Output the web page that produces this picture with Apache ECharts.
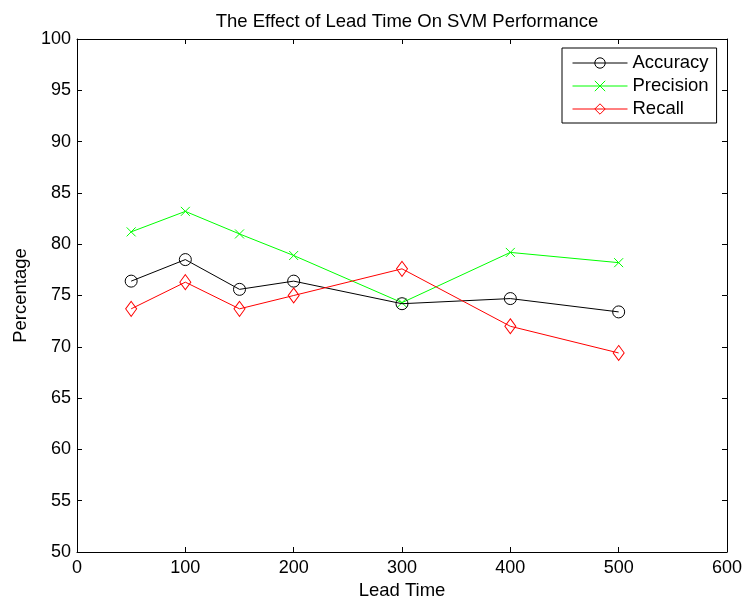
<!DOCTYPE html>
<html>
<head>
<meta charset="utf-8">
<script src="https://cdn.jsdelivr.net/npm/echarts@6/dist/echarts.min.js"></script>
<style>html,body{margin:0;padding:0;background:#fff}#c{width:743px;height:598px}</style>
</head>
<body>
<div id="c"></div>
<script>
const leadTimes = [50, 100, 150, 200, 300, 400, 500];
const accuracy = [76.4, 78.5, 75.6, 76.4, 74.2, 74.7, 73.4];
const precision = [81.2, 83.2, 81.0, 78.9, 74.3, 79.2, 78.2];
const recall = [73.7, 76.3, 73.7, 75.0, 77.6, 72.0, 69.4];
const seriesNames = ['Accuracy', 'Precision', 'Recall'];

const FONT = 'Liberation Sans, Arial, Helvetica, sans-serif';
const pairs = v => leadTimes.map((x, i) => [x, v[i]]);

const chart = echarts.init(document.getElementById('c'));
const axisCommon = {
  axisLine: { show: true, onZero: false, lineStyle: { color: '#000', width: 1 } },
  axisTick: { show: true, inside: true, length: 5, lineStyle: { color: '#000' } },
  splitLine: { show: false },
  axisLabel: { color: '#000', fontSize: 18, fontFamily: FONT }
};
chart.setOption({
  animation: false,
  backgroundColor: '#fff',
  title: {
    text: 'The Effect of Lead Time On SVM Performance',
    left: 402, top: 7, textAlign: 'center',
    textStyle: { fontSize: 18.5, fontWeight: 'normal', color: '#000', fontFamily: FONT }
  },
  grid: { left: 77, top: 39, right: 16, bottom: 46, containLabel: false, outerBoundsMode: 'none' },
  legend: {
    data: seriesNames,
    orient: 'vertical',
    left: 562, top: 48,
    padding: [5, 8, 4, 10],
    itemWidth: 55, itemHeight: 13, itemGap: 3,
    borderColor: '#000', borderWidth: 1, backgroundColor: '#fff',
    lineStyle: { width: 1 },
    itemStyle: { borderWidth: 1 },
    textStyle: { fontSize: 18.5, lineHeight: 20, color: '#000', fontFamily: FONT }
  },
  xAxis: [
    Object.assign({}, axisCommon, {
      type: 'value', min: 0, max: 600, interval: 100, position: 'bottom',
      name: 'Lead Time', nameLocation: 'middle', nameGap: 29,
      nameTextStyle: { fontSize: 18.5, color: '#000', fontFamily: FONT },
      axisLabel: Object.assign({}, axisCommon.axisLabel, { margin: 7 })
    }),
    Object.assign({}, axisCommon, {
      type: 'value', min: 0, max: 600, interval: 100, position: 'top',
      axisLabel: { show: false }
    })
  ],
  yAxis: [
    Object.assign({}, axisCommon, {
      type: 'value', min: 50, max: 100, interval: 5, position: 'left',
      name: 'Percentage', nameLocation: 'middle', nameGap: 44,
      nameTextStyle: { fontSize: 18.5, color: '#000', fontFamily: FONT },
      axisLabel: Object.assign({}, axisCommon.axisLabel, { margin: 6 })
    }),
    Object.assign({}, axisCommon, {
      type: 'value', min: 50, max: 100, interval: 5, position: 'right',
      axisLabel: { show: false }
    })
  ],
  series: [
    {
      name: 'Accuracy', type: 'line', data: pairs(accuracy),
      symbol: 'circle', symbolSize: 12,
      lineStyle: { color: '#000', width: 1 },
      itemStyle: { color: 'rgba(0,0,0,0)', borderColor: '#000', borderWidth: 1 },
      z: 3
    },
    {
      name: 'Precision', type: 'line', data: pairs(precision),
      symbol: 'path://M-1,-1L1,1M1,-1L-1,1', symbolSize: 9,
      lineStyle: { color: '#00ff00', width: 1 },
      itemStyle: { color: '#00ff00', borderColor: '#00ff00', borderWidth: 1 },
      z: 2
    },
    {
      name: 'Recall', type: 'line', data: pairs(recall),
      symbol: 'path://M0,-1L0.7,0L0,1L-0.7,0Z', symbolSize: [11, 15],
      symbolKeepAspect: false,
      lineStyle: { color: '#ff0000', width: 1 },
      itemStyle: { color: 'rgba(0,0,0,0)', borderColor: '#ff0000', borderWidth: 1 },
      z: 4
    }
  ]
});
</script>
</body>
</html>
